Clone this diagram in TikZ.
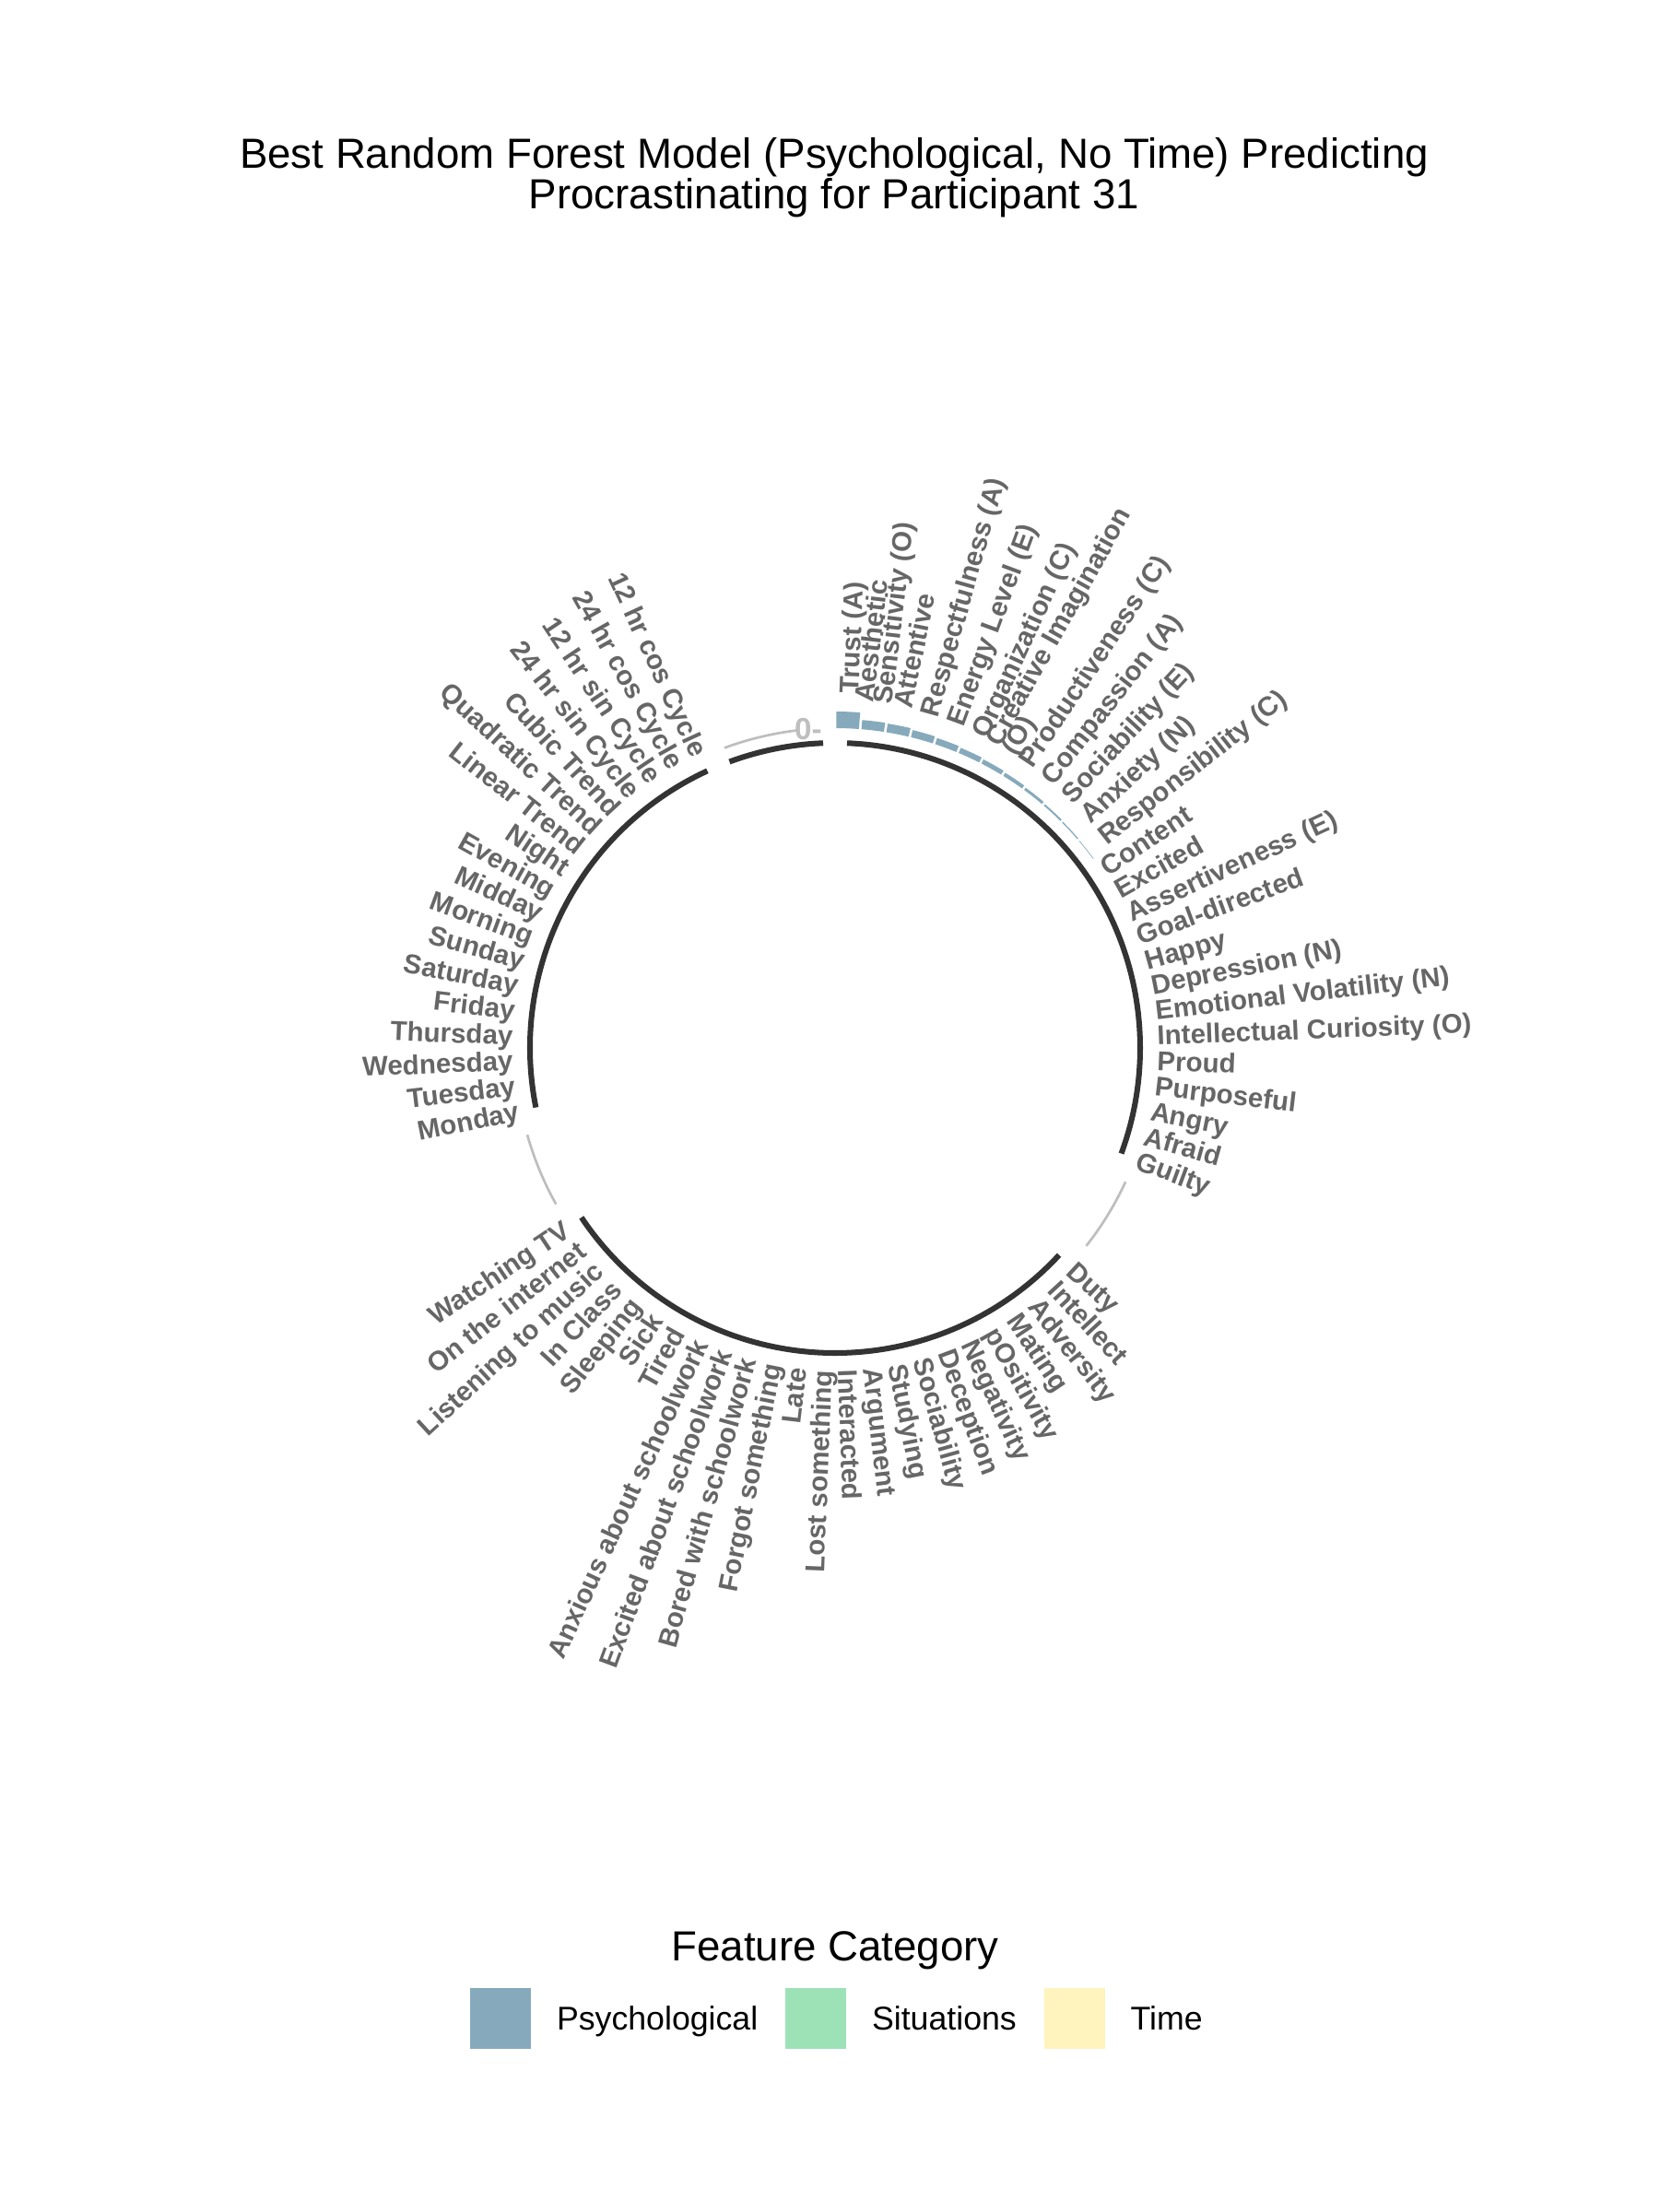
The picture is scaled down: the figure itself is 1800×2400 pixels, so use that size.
\documentclass[tikz,border=0pt]{standalone}
\usepackage{fontspec}
\setmainfont{Liberation Sans}
\usetikzlibrary{positioning, calc}

\definecolor{psyfill}{HTML}{86AABB}
\definecolor{sitfill}{HTML}{9DE2B7}
\definecolor{timfill}{HTML}{FFF3BE}
\definecolor{labgray}{HTML}{666666}
\definecolor{gapgray}{HTML}{BEBEBE}
\definecolor{arcdark}{HTML}{333333}

\begin{document}
\begin{tikzpicture}[
    x=0.0846667mm, y=-0.0846667mm,
    lab/.style={inner sep=0pt, text=labgray, font=\fontsize{7.11}{8.5}\selectfont\bfseries, text height=5.1pt, text depth=0pt},
    lablines/.style={inner sep=0pt, text=labgray, font=\fontsize{7.11}{8.5}\selectfont\bfseries, align=left},
    grouparc/.style={arcdark, line width=1.45pt},
    gaparc/.style={gapgray, line width=0.65pt},
    key/.style={minimum size=5.59mm, inner sep=0pt, outer sep=0pt},
    legtext/.style={inner sep=0pt, font=\fontsize{8.6}{10}\selectfont, text height=6.2pt, text depth=0pt},
]
\useasboundingbox (0,0) rectangle (1800,2400);

% Title
\node[anchor=base, font=\fontsize{11}{13}\selectfont] (title1) at (905,183) {Best Random Forest Model (Psychological, No Time) Predicting};
\node[anchor=base, font=\fontsize{11}{13}\selectfont] (title2) at (905,227) {Procrastinating for Participant 31};

% Centre of the circle
\coordinate (C) at (906,1137);

% Grey arcs in the gaps
\draw[gaparc] ($(C)+(24.75:347)$) arc[start angle=24.75, end angle=38.25, radius=347];
\draw[gaparc] ($(C)+(150.75:347)$) arc[start angle=150.75, end angle=164.25, radius=347];
\draw[gaparc] ($(C)+(249.75:347)$) arc[start angle=249.75, end angle=263.25, radius=347];
\node[anchor=east, inner sep=0pt, text=gapgray, font=\fontsize{8}{9}\selectfont\bfseries, text height=5.8pt, text depth=0pt] (zero) at ($(C)+(267.75:347)$) {0-};

% Psychological bars
\foreach \h [count=\i] in {18,10,9.5,8,7,6,5,4,3,2,1.3,0.7} {
    \pgfmathsetmacro\a{(\i-0.5)*4.5-90}
    \pgfmathsetmacro\aa{\a-2.025}
    \pgfmathsetmacro\ab{\a+2.025}
    \pgfmathsetmacro\r{347+\h}
    \fill[psyfill] ($(C)+(\aa:347)$) arc[start angle=\aa, end angle=\ab, radius=347]
        -- ($(C)+(\ab:\r)$) arc[start angle=\ab, end angle=\aa, radius=\r] -- cycle;
}

% Psychological labels
\foreach \s/\lab/\h in {1/Trust (A)/18, 3/Attentive/9.5, 4/Respectfulness (A)/8, 5/Energy Level (E)/7,
    6/Organization (C)/6, 8/Productiveness (C)/4, 9/Compassion (A)/3, 10/Sociability (E)/2,
    11/Anxiety (N)/1.3, 12/Responsibility (C)/0.7, 13/Content/0, 14/Excited/0, 15/Assertiveness (E)/0,
    16/Goal-directed/0, 17/Happy/0, 18/Depression (N)/0, 19/Emotional Volatility (N)/0,
    20/Intellectual Curiosity (O)/0, 21/Proud/0, 22/Purposeful/0, 23/Angry/0, 24/Afraid/0, 25/Guilty/0} {
    \pgfmathsetmacro\a{(\s-0.5)*4.5}
    \pgfmathsetmacro\L{\h>0 ? 366+\h : 349}
    \pgfmathsetmacro\p{\a-90}
    \node[lab, anchor=west, rotate=90-\a] (psy\s) at ($(C)+(\p:\L)$) {\lab};
}
\node[lablines, anchor=west, rotate=83.25] (psy2) at ($(C)+(-83.25:376)$) {Aesthetic\\[-3.7pt]Sensitivity (O)};
\node[lablines, anchor=west, rotate=60.75] (psy7) at ($(C)+(-60.75:371)$) {Creative Imagination\\[-3.7pt](O)};

% Situations labels
\foreach \lab [count=\i from 30] in {Duty, Intellect, Adversity, Mating, pOsitivity, Negativity, Deception,
    Sociability, Studying, Argument, Interacted, Lost something, Late, Forgot something,
    Bored with schoolwork, Excited about schoolwork, Anxious about schoolwork, Tired, Sick,
    Sleeping, In Class, Listening to music, On the internet, Watching TV} {
    \pgfmathsetmacro\a{(\i-0.5)*4.5}
    \pgfmathsetmacro\p{\a-90}
    \ifdim\a pt<180pt
        \node[lab, anchor=west, rotate=90-\a] (sit\i) at ($(C)+(\p:349)$) {\lab};
    \else
        \node[lab, anchor=east, rotate=270-\a] (sit\i) at ($(C)+(\p:349)$) {\lab};
    \fi
}

% Time labels
\foreach \lab [count=\i from 58] in {Monday, Tuesday, Wednesday, Thursday, Friday, Saturday, Sunday,
    Morning, Midday, Evening, Night, Linear Trend, Quadratic Trend, Cubic Trend,
    24 hr sin Cycle, 12 hr sin Cycle, 24 hr cos Cycle, 12 hr cos Cycle} {
    \pgfmathsetmacro\a{(\i-0.5)*4.5}
    \pgfmathsetmacro\p{\a-90}
    \node[lab, anchor=east, rotate=270-\a] (tim\i) at ($(C)+(\p:349)$) {\lab};
}

% Dark arcs under each group
\draw[grouparc] ($(C)+(-87.75:331)$) arc[start angle=-87.75, end angle=20.25, radius=331];
\draw[grouparc] ($(C)+(42.75:331)$) arc[start angle=42.75, end angle=146.25, radius=331];
\draw[grouparc] ($(C)+(168.75:331)$) arc[start angle=168.75, end angle=245.25, radius=331];
\draw[grouparc] ($(C)+(249.75:331)$) arc[start angle=249.75, end angle=267.75, radius=331];

% Legend
\node[anchor=base, font=\fontsize{11}{13}\selectfont] (legtitle) at (906,2127) {Feature Category};
\node[key, fill=psyfill] (keypsy) at (543,2190) {};
\node[legtext, right=2.3mm of keypsy] (legpsy) {Psychological};
\node[key, fill=sitfill, right=2.45mm of legpsy] (keysit) {};
\node[legtext, right=2.3mm of keysit] (legsit) {Situations};
\node[key, fill=timfill, right=2.45mm of legsit] (keytim) {};
\node[legtext, right=2.3mm of keytim] (legtim) {Time};

\end{tikzpicture}
\end{document}
